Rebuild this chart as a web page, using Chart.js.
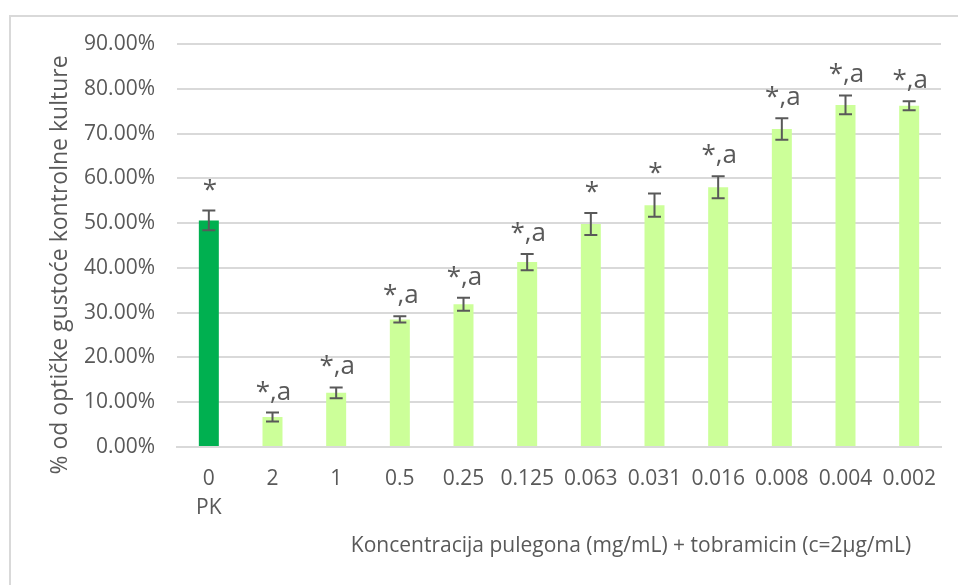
<!DOCTYPE html>
<html>
<head>
<meta charset="utf-8">
<script src="https://cdn.jsdelivr.net/npm/chart.js@4.4.1/dist/chart.umd.min.js"></script>
<style>
  html, body { margin: 0; padding: 0; background: #fff; }
  #wrap { position: relative; width: 958px; height: 585px; }
</style>
</head>
<body>
<div id="wrap"><canvas id="chart" width="958" height="585"></canvas></div>
<script>
// concentrations (mg/mL), first one is the positive control
var categories = [['0', 'PK'], '2', '1', '0.5', '0.25', '0.125', '0.063', '0.031', '0.016', '0.008', '0.004', '0.002'];
// % of optical density of the control culture
var values = [50.6, 6.7, 12.1, 28.5, 31.9, 41.3, 49.8, 54.0, 58.0, 71.0, 76.4, 76.2];
var errors = [2.2, 1.0, 1.2, 0.7, 1.45, 1.8, 2.45, 2.6, 2.45, 2.4, 2.1, 1.0];
var marks = ['*', '*,a', '*,a', '*,a', '*,a', '*,a', '*', '*', '*,a', '*,a', '*,a', '*,a'];
var yTicks = [0, 10, 20, 30, 40, 50, 60, 70, 80, 90];

var barColors = values.map(function (v, i) { return i === 0 ? '#00b050' : '#ccff99'; });
var textGrey = '#595959';
var fontFamily = '"Open Sans", sans-serif';

// error bars + significance marks
var errorPlugin = {
  id: 'errorBars',
  afterDatasetsDraw: function (chart) {
    var ctx = chart.ctx;
    var meta = chart.getDatasetMeta(0);
    var y = chart.scales.y;
    ctx.save();
    ctx.strokeStyle = '#595959';
    ctx.lineWidth = 2;
    meta.data.forEach(function (bar, i) {
      var top = y.getPixelForValue(values[i] + errors[i]);
      var bot = y.getPixelForValue(values[i] - errors[i]);
      ctx.beginPath();
      ctx.moveTo(bar.x, top); ctx.lineTo(bar.x, bot);
      ctx.moveTo(bar.x - 6.5, top); ctx.lineTo(bar.x + 6.5, top);
      ctx.moveTo(bar.x - 6.5, bot); ctx.lineTo(bar.x + 6.5, bot);
      ctx.stroke();
      ctx.fillStyle = textGrey;
      ctx.font = '26px ' + fontFamily;
      ctx.textAlign = 'center';
      ctx.textBaseline = 'alphabetic';
      ctx.fillText(marks[i], bar.x + 1, top - 13);
    });
    ctx.restore();
  }
};

// frame and axis titles
var framePlugin = {
  id: 'frame',
  afterDraw: function (chart) {
    var ctx = chart.ctx;
    ctx.save();
    ctx.strokeStyle = '#d9d9d9';
    ctx.lineWidth = 2;
    ctx.beginPath();
    ctx.moveTo(10, 585); ctx.lineTo(10, 16); ctx.lineTo(958, 16);
    ctx.stroke();

    ctx.fillStyle = textGrey;
    ctx.textAlign = 'center';
    ctx.textBaseline = 'middle';
    ctx.font = '21px ' + fontFamily;
    ctx.fillText('Koncentracija pulegona (mg/mL) + tobramicin (c=2\u03bcg/mL)', 631, 546);

    ctx.font = '23px ' + fontFamily;
    ctx.translate(60, 265);
    ctx.rotate(-Math.PI / 2);
    ctx.fillText('% od optičke gustoće kontrolne kulture', 0, 0);
    ctx.restore();
  }
};

new Chart(document.getElementById('chart').getContext('2d'), {
  type: 'bar',
  data: {
    labels: categories,
    datasets: [{
      data: values,
      backgroundColor: barColors,
      borderWidth: 0,
      categoryPercentage: 1,
      barPercentage: 0.314
    }]
  },
  options: {
    responsive: false,
    animation: false,
    layout: { padding: { top: 44, right: 17, bottom: 0, left: 0 } },
    plugins: { legend: { display: false }, tooltip: { enabled: false } },
    scales: {
      x: {
        grid: { display: false, drawTicks: false },
        border: { display: true, color: '#d9d9d9', width: 2 },
        ticks: {
          color: textGrey,
          font: { family: fontFamily, size: 21, lineHeight: 1.4 },
          padding: 17,
          maxRotation: 0,
          autoSkip: false
        },
        afterFit: function (s) { s.height = 138; }
      },
      y: {
        min: 0,
        max: 90,
        afterBuildTicks: function (s) { s.ticks = yTicks.map(function (v) { return { value: v }; }); },
        grid: { color: '#d9d9d9', lineWidth: 2, drawTicks: false },
        border: { display: false },
        ticks: {
          color: textGrey,
          font: { family: fontFamily, size: 21 },
          padding: 22,
          callback: function (v) { return v.toFixed(2) + '%'; }
        },
        afterFit: function (s) { s.width = 177; }
      }
    }
  },
  plugins: [errorPlugin, framePlugin]
});
</script>
</body>
</html>
